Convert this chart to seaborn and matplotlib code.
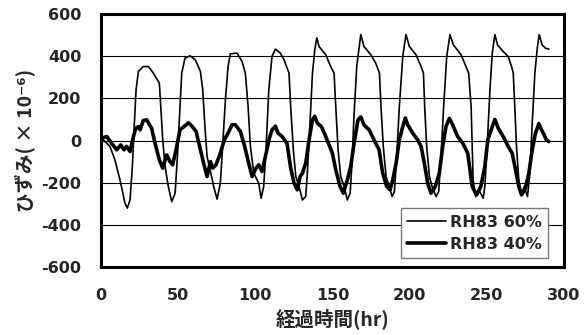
import matplotlib
matplotlib.use("Agg")
import matplotlib.pyplot as plt
import seaborn as sns
import pandas as pd

# --- data ---
hr_60 = [0.4, 5.8, 9.0, 12.3, 15.5, 17.0, 18.8, 20.3, 21.6, 22.7, 24.2, 27.4, 30.7, 33.9, 37.8,
         38.7, 40.0, 41.5, 43.6, 45.8, 48.0, 49.5, 51.2, 52.3, 54.4, 57.7,
         61.1, 64.4, 65.9, 67.2, 68.7, 70.9, 73.0, 75.2, 77.3, 78.8, 80.6, 82.3, 83.8, 88.1,
         91.4, 93.5, 95.3, 96.8, 99.0, 102.2, 103.7, 105.4, 106.9, 108.7, 110.8, 113.0, 116.2,
         118.6, 121.8, 122.9, 124.6, 126.2, 128.3, 130.5, 132.6, 133.7, 135.4, 137.0, 138.5,
         139.8, 141.3, 145.6, 148.8, 151.0, 152.1, 153.6, 155.3, 157.5, 159.6, 161.4, 162.5,
         164.0, 165.7, 168.3, 170.4, 174.8, 178.0, 180.4, 181.4, 182.9, 184.7, 186.8, 188.6,
         190.1, 191.6, 193.3, 195.5, 197.6, 199.8, 204.1, 207.4, 208.9, 209.7, 211.0, 212.8,
         214.5, 217.1, 218.8, 220.3, 222.0, 224.0, 226.1, 228.3, 233.3, 236.5, 238.2, 239.8,
         241.1, 242.7, 244.8, 247.6, 248.7, 250.4, 252.0, 253.5, 255.2, 256.9, 260.6, 263.8,
         266.0, 267.1, 268.1, 269.2, 270.7, 272.5, 274.2, 276.3, 277.9, 279.4, 281.1, 282.8,
         283.9, 285.8, 288.0, 290.2]
val_60 = [11, -28, -92, -187, -297, -321, -282, -123, 82, 240, 328, 351, 351, 320, 272,
          161, 3, -123, -218, -290, -250, -76, 161, 320, 391, 402,
          383, 328, 240, 82, -76, -147, -218, -278, -203, -28, 193, 351, 411, 415,
          375, 320, 161, -28, -155, -203, -274, -218, -44, 240, 399, 434, 415,
          383, 320, 161, -44, -171, -218, -282, -266, -155, 82, 320, 430,
          487, 446, 407, 351, 320, 161, -44, -171, -218, -282, -250, -123,
          130, 351, 503, 446, 407, 367, 320, 161, -28, -171, -218, -266,
          -242, -76, 161, 399, 503, 446, 407, 351, 320, 161, -28, -171,
          -218, -266, -242, -76, 161, 399, 503, 454, 407, 351, 320, 161,
          -187, -266, -234, -274, -218, 3, 240, 415, 503, 454, 422, 399,
          351, 320, 161, -28, -187, -258, -218, -266, -155, 82, 320, 446,
          503, 454, 438, 434]

hr_40 = [0.4, 3.7, 6.9, 10.2, 12.7, 14.9, 16.6, 18.8, 21.0, 22.5, 24.2, 25.3, 27.4, 29.6,
         32.8, 35.0, 37.8, 40.0, 42.5, 44.7, 46.4, 48.6, 51.2, 53.3, 56.6, 58.7,
         61.6, 64.4, 66.5, 68.7, 70.9, 72.4, 74.5, 77.3, 79.9, 82.3, 84.9, 87.0, 90.3, 93.1,
         95.7, 97.9, 100.4, 102.2, 104.3, 106.5, 109.1, 110.8, 113.0, 114.7, 117.3, 120.5,
         122.9, 125.1, 127.2, 129.0, 130.5, 132.6, 134.8, 137.0, 138.5, 140.2, 142.8, 145.6,
         147.8, 149.9, 152.1, 154.9, 157.0, 159.6, 161.8, 164.0, 166.5, 168.3, 170.4, 173.7,
         176.9, 180.2, 182.5, 185.1, 187.3, 189.0, 191.2, 193.3, 195.5, 197.2, 198.7, 202.0,
         205.2, 207.4, 209.5, 211.7, 213.8, 216.6, 219.2, 221.4, 223.5, 225.7, 227.9, 231.1,
         234.4, 237.6, 240.5, 243.3, 246.1, 248.7, 250.6, 253.5, 255.2, 257.4, 260.6, 263.8,
         266.4, 268.6, 270.7, 272.5, 275.0, 277.2, 279.4, 281.5, 283.7, 285.4, 287.1, 288.6,
         290.2]
val_40 = [11, 19, -13, -44, -21, -44, -28, -52, 19, 58, 66, 51, 95, 98,
          58, -13, -92, -131, -68, -100, -115, -44, 51, 63, 84, 70,
          43, -44, -108, -171, -100, -131, -115, -60, 3, 35, 75, 75, 43, -28,
          -108, -171, -131, -115, -147, -76, 11, 51, 68, 35, 19, -13,
          -131, -203, -234, -171, -155, -108, 3, 98, 115, 82, 66, 19,
          -21, -60, -139, -218, -250, -187, -123, -13, 98, 112, 74, 51,
          3, -44, -155, -218, -234, -187, -108, 3, 66, 107, 74, 35,
          3, -28, -108, -203, -250, -218, -155, -28, 66, 105, 74, 19,
          -13, -60, -218, -258, -218, -123, 3, 66, 100, 58, 19, -28,
          -60, -139, -218, -258, -226, -155, -44, 35, 80, 51, 27, 3,
          -5]

series_names = ["RH83 60%", "RH83 40%"]
x_ticks = [0, 50, 100, 150, 200, 250, 300]
y_ticks = [-600, -400, -200, 0, 200, 400, 600]
x_label = "経過時間(hr)"
y_label = "ひずみ( × 10⁻⁶)"

df60 = pd.DataFrame({"hr": hr_60, "strain": val_60})
df40 = pd.DataFrame({"hr": hr_40, "strain": val_40})

sns.set_style("white")
plt.rcParams["font.family"] = ["DejaVu Sans", "Noto Sans CJK JP"]

fig = plt.figure(figsize=(5.86, 3.35), dpi=100)
ax = fig.add_axes([0.1724, 0.203, 0.7901, 0.755])

for yv in [-400, -200, 0, 200, 400]:
    ax.axhline(yv, color="black", lw=0.8, zorder=1)

sns.lineplot(data=df60, x="hr", y="strain", ax=ax, color="black", linewidth=1.2,
             estimator=None, sort=False, label=series_names[0], zorder=3)
sns.lineplot(data=df40, x="hr", y="strain", ax=ax, color="black", linewidth=2.6,
             estimator=None, sort=False, label=series_names[1], zorder=3)

ax.set_xlim(0, 300)
ax.set_ylim(-600, 600)
ax.set_xticks(x_ticks)
ax.set_yticks(y_ticks)
ax.set_xticklabels([str(t) for t in x_ticks], fontsize=11.5, fontweight="bold")
ax.set_yticklabels([str(t) for t in y_ticks], fontsize=11.5, fontweight="bold")
ax.tick_params(axis="x", direction="in", length=5, width=1.2, pad=15)
ax.tick_params(axis="y", direction="in", length=0, pad=14)

for s in ax.spines.values():
    s.set_visible(True)
    s.set_color("black")
    s.set_linewidth(2.2)

ax.set_xlabel(x_label, fontsize=14, fontweight="bold",
              family=["Noto Sans CJK JP", "DejaVu Sans"], labelpad=4)
ax.set_ylabel(y_label, fontsize=14, fontweight="bold",
              family=["Noto Sans CJK JP", "DejaVu Sans"], labelpad=4)

leg = ax.legend(loc="lower right", bbox_to_anchor=(0.965, 0.034), borderaxespad=0,
                frameon=True, fancybox=False, framealpha=1, edgecolor="#777777",
                handlelength=2.4, handletextpad=0.25, labelspacing=0.45,
                borderpad=0.4, prop={"size": 11.5, "weight": "bold"})
leg.get_frame().set_linewidth(1.0)

fig.savefig("out.png", dpi=100)
